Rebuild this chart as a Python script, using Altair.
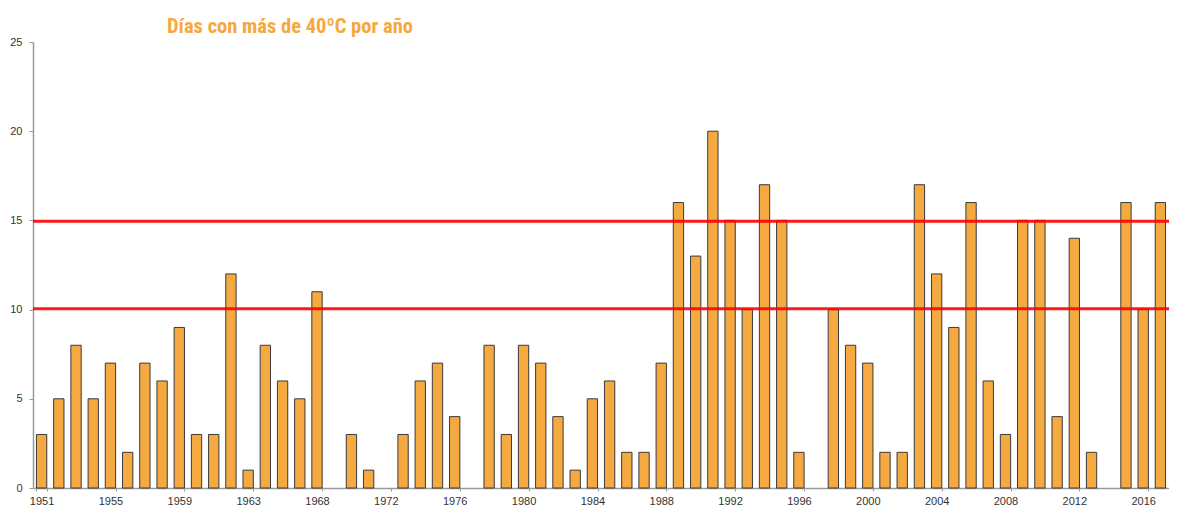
import altair as alt
import pandas as pd

years = [str(y) for y in list(range(1951, 1967)) + list(range(1968, 2018))]
values = [3, 5, 8, 5, 7, 2, 7, 6, 9, 3, 3, 12, 1, 8, 6, 5,
          11, 0, 3, 1, 0, 3, 6, 7, 4, 0, 8, 3, 8, 7, 4, 1,
          5, 6, 2, 2, 7, 16, 13, 20, 15, 10, 17, 15, 2, 0, 10, 8,
          7, 2, 2, 17, 12, 9, 16, 6, 3, 15, 15, 4, 14, 2, 0, 16,
          10, 16]
tick_labels = [years[i] for i in range(0, len(years), 4)]
ref_levels = [14.95, 10.05]

df = pd.DataFrame({"year": years, "days": values})
ref = pd.DataFrame({"level": ref_levels})

xscale = alt.Scale(domain=years, paddingInner=0.4, paddingOuter=0.2)

bars = alt.Chart(df).transform_filter(
    "datum.days > 0"
).mark_bar(
    color="#F4A941", stroke="#3a3a3a", strokeWidth=1
).encode(
    x=alt.X("year:O", scale=xscale, sort=None, title=None,
            axis=alt.Axis(values=tick_labels, labelAngle=0, labelFontSize=11,
                          labelColor="#333333", domainColor="#9a9a9a",
                          domainWidth=1.5, tickColor="#9a9a9a", tickSize=3,
                          tickBand="extent", labelPadding=4,
                          labelFont="Liberation Sans")),
    y=alt.Y("days:Q", scale=alt.Scale(domain=[0, 25], nice=False), title=None,
            axis=alt.Axis(values=[0, 5, 10, 15, 20, 25], grid=False,
                          labelFontSize=11, labelColor="#333333",
                          domainColor="#9a9a9a", domainWidth=1.5,
                          tickColor="#9a9a9a", tickSize=4, labelPadding=7,
                          labelFont="Liberation Sans")),
)

lines = alt.Chart(ref).mark_rule(color="#ff0000", strokeWidth=3, opacity=0.9).encode(
    y="level:Q"
)

chart = alt.layer(bars, lines).properties(
    width=1136,
    height=446,
    background="white",
    padding={"left": 25, "top": 34, "right": 0, "bottom": 24},
    autosize=alt.AutoSizeParams(type="none"),
    title=alt.TitleParams(
        "Días con más de 40ºC por año",
        anchor="start", frame="group", dx=134, offset=-1,
        font="Liberation Sans Narrow, Roboto Condensed, Arial Narrow, sans-serif",
        fontSize=20.5, fontWeight="bold", color="#F5A83E",
    ),
).configure_view(stroke=None)

chart.save("out.html", embed_options={"renderer": "svg", "actions": False})
